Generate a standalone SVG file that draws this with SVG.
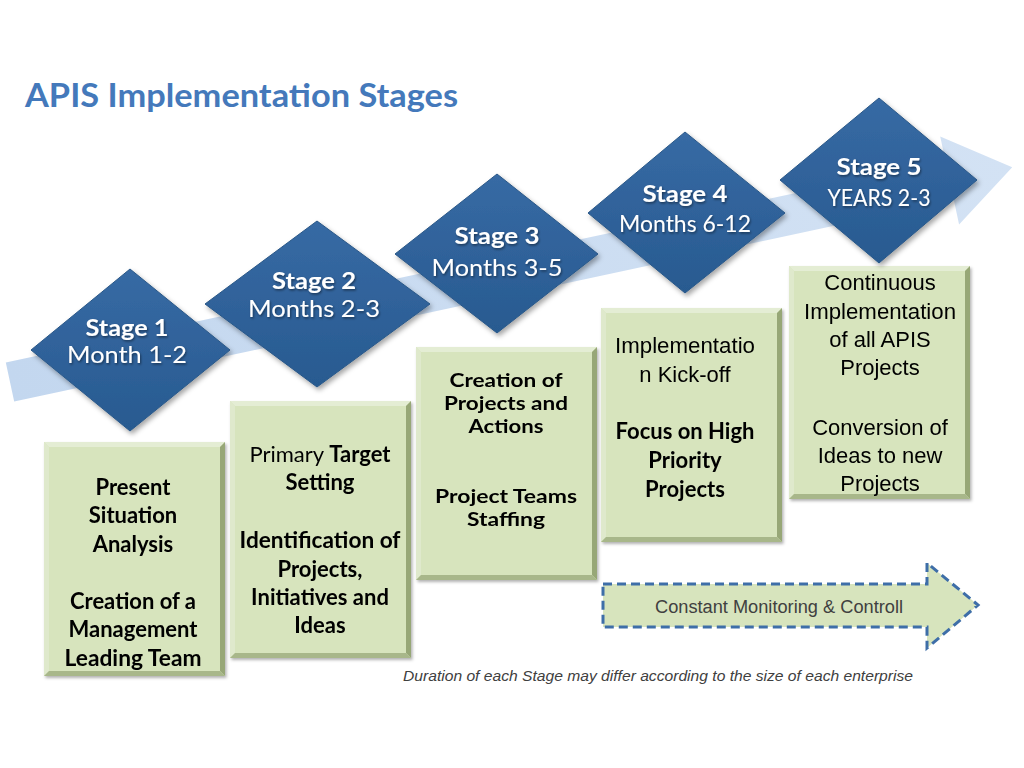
<svg xmlns="http://www.w3.org/2000/svg" width="1024" height="768" viewBox="0 0 1024 768">
<defs>
<linearGradient id="bandGrad" x1="0" y1="0" x2="1" y2="0">
<stop offset="0" stop-color="#c3d7ef"/>
<stop offset="1" stop-color="#d3e2f4"/>
</linearGradient>
<linearGradient id="diaGrad" x1="0" y1="0" x2="0" y2="1">
<stop offset="0" stop-color="#376aa4"/>
<stop offset="1" stop-color="#285a90"/>
</linearGradient>
<filter id="shadow" x="-10%" y="-10%" width="130%" height="130%">
<feDropShadow dx="2" dy="3" stdDeviation="2.5" flood-color="#000" flood-opacity="0.35"/>
</filter>
<filter id="bshadow" x="-10%" y="-10%" width="130%" height="130%">
<feDropShadow dx="1.5" dy="2" stdDeviation="1.5" flood-color="#000" flood-opacity="0.3"/>
</filter>
<filter id="tshadow" x="-10%" y="-20%" width="130%" height="150%">
<feDropShadow dx="1" dy="1.5" stdDeviation="1" flood-color="#000" flood-opacity="0.45"/>
</filter>
</defs>
<style>
.title{font-family:Lato,"Liberation Sans",sans-serif;font-weight:bold;font-size:33px;fill:#4479bb}
.dia{fill:url(#diaGrad);stroke:#2a5888;stroke-width:1;filter:url(#shadow)}
.dt{font-family:Lato,"Liberation Sans",sans-serif;font-size:23px;fill:#fff;text-anchor:middle;filter:url(#tshadow)}
.db{font-weight:bold}
.box{fill:#d7e4bd}
.bt{fill:#e4edd4}
.bl{fill:#dfe9cc}
.br{fill:#97a777}
.bb{fill:#a8b78a}
.tb{font-family:Lato,"Liberation Sans",sans-serif;font-weight:bold;font-size:22px;fill:#000;text-anchor:middle}
.tb3{font-family:Lato,"Liberation Sans",sans-serif;font-weight:bold;font-size:19.5px;fill:#000;text-anchor:middle}
.tr{font-family:"Liberation Sans",Arial,sans-serif;font-size:22px;fill:#000;text-anchor:middle}
.tl{font-family:Lato,"Liberation Sans",sans-serif;font-size:22px;fill:#000;text-anchor:middle}
.mon{fill:#d7e4bd;stroke:#3e6ea8;stroke-width:3;stroke-dasharray:9 5}
.mt{font-family:"Liberation Sans",Arial,sans-serif;font-size:18px;fill:#404040}
.foot{font-family:"Liberation Sans",Arial,sans-serif;font-style:italic;font-size:14.5px;fill:#404040}
</style>
<rect width="1024" height="768" fill="#fff"/>
<text class="title" x="25" y="107" textLength="433" lengthAdjust="spacingAndGlyphs">APIS Implementation Stages</text>

<g id="connectors">
<path transform="translate(10,382) rotate(-12.1)" d="M0,-20 L961,-20 L961,-45 L1025,0 L961,45 L961,20 L0,20 Z" fill="url(#bandGrad)"/>
</g>

<g id="box1" filter="url(#bshadow)">
<rect class="box" x="44" y="442" width="181" height="234"/>
<polygon class="bt" points="44,442 225,442 220,447 49,447"/>
<polygon class="bl" points="44,442 49,447 49,671 44,676"/>
<polygon class="br" points="225,442 225,676 220,671 220,447"/>
<polygon class="bb" points="44,676 225,676 220,671 49,671"/>
<text class="tb" x="133" y="495">Present</text>
<text class="tb" x="133" y="523">Situation</text>
<text class="tb" x="133" y="552">Analysis</text>
<text class="tb" x="133" y="609">Creation of a</text>
<text class="tb" x="133" y="637">Management</text>
<text class="tb" x="133" y="666" textLength="137" lengthAdjust="spacingAndGlyphs">Leading Team</text>
</g>

<g id="box2" filter="url(#bshadow)">
<rect class="box" x="230" y="401" width="181" height="257"/>
<polygon class="bt" points="230,401 411,401 406,406 235,406"/>
<polygon class="bl" points="230,401 235,406 235,653 230,658"/>
<polygon class="br" points="411,401 411,658 406,653 406,406"/>
<polygon class="bb" points="230,658 411,658 406,653 235,653"/>
<text class="tl" x="320" y="462">Primary <tspan font-weight="bold">Target</tspan></text>
<text class="tb" x="320" y="490">Setting</text>
<text class="tb" x="320" y="548" textLength="161" lengthAdjust="spacingAndGlyphs">Identification of</text>
<text class="tb" x="320" y="577">Projects,</text>
<text class="tb" x="320" y="605">Initiatives and</text>
<text class="tb" x="320" y="633">Ideas</text>
</g>

<g id="box3" filter="url(#bshadow)">
<rect class="box" x="416" y="347" width="181" height="233"/>
<polygon class="bt" points="416,347 597,347 592,352 421,352"/>
<polygon class="bl" points="416,347 421,352 421,575 416,580"/>
<polygon class="br" points="597,347 597,580 592,575 592,352"/>
<polygon class="bb" points="416,580 597,580 592,575 421,575"/>
<text class="tb3" x="506" y="387" textLength="113" lengthAdjust="spacingAndGlyphs">Creation of</text>
<text class="tb3" x="506" y="410" textLength="124" lengthAdjust="spacingAndGlyphs">Projects and</text>
<text class="tb3" x="506" y="433" textLength="75" lengthAdjust="spacingAndGlyphs">Actions</text>
<text class="tb3" x="506" y="503" textLength="142" lengthAdjust="spacingAndGlyphs">Project Teams</text>
<text class="tb3" x="506" y="526" textLength="78" lengthAdjust="spacingAndGlyphs">Staffing</text>
</g>

<g id="box4" filter="url(#bshadow)">
<rect class="box" x="601" y="308" width="181" height="234"/>
<polygon class="bt" points="601,308 782,308 777,313 606,313"/>
<polygon class="bl" points="601,308 606,313 606,537 601,542"/>
<polygon class="br" points="782,308 782,542 777,537 777,313"/>
<polygon class="bb" points="601,542 782,542 777,537 606,537"/>
<text class="tr" x="685" y="353" textLength="140" lengthAdjust="spacingAndGlyphs">Implementatio</text>
<text class="tr" x="685" y="382">n Kick-off</text>
<text class="tb" x="685" y="439">Focus on High</text>
<text class="tb" x="685" y="468">Priority</text>
<text class="tb" x="685" y="497">Projects</text>
</g>

<g id="box5" filter="url(#bshadow)">
<rect class="box" x="789" y="266" width="181" height="233"/>
<polygon class="bt" points="789,266 970,266 965,271 794,271"/>
<polygon class="bl" points="789,266 794,271 794,494 789,499"/>
<polygon class="br" points="970,266 970,499 965,494 965,271"/>
<polygon class="bb" points="789,499 970,499 965,494 794,494"/>
<text class="tr" x="880" y="290">Continuous</text>
<text class="tr" x="880" y="319" textLength="152" lengthAdjust="spacingAndGlyphs">Implementation</text>
<text class="tr" x="880" y="347">of all APIS</text>
<text class="tr" x="880" y="375">Projects</text>
<text class="tr" x="880" y="435">Conversion of</text>
<text class="tr" x="880" y="463">Ideas to new</text>
<text class="tr" x="880" y="491">Projects</text>
</g>

<g id="stage1">
<polygon class="dia" points="130,269 230,350 130,431 31,350"/>
<text class="dt db" x="127" y="336" textLength="83" lengthAdjust="spacingAndGlyphs">Stage 1</text>
<text class="dt" x="127" y="363" textLength="120" lengthAdjust="spacingAndGlyphs">Month 1-2</text>
</g>
<g id="stage2">
<polygon class="dia" points="317,221 430,304 317,387 205,304"/>
<text class="dt db" x="314" y="289" textLength="84" lengthAdjust="spacingAndGlyphs">Stage 2</text>
<text class="dt" x="314" y="317" textLength="132" lengthAdjust="spacingAndGlyphs">Months 2-3</text>
</g>
<g id="stage3">
<polygon class="dia" points="497,174 598,254 497,333 395,254"/>
<text class="dt db" x="497" y="244" textLength="85" lengthAdjust="spacingAndGlyphs">Stage 3</text>
<text class="dt" x="497" y="276" textLength="131" lengthAdjust="spacingAndGlyphs">Months 3-5</text>
</g>
<g id="stage4">
<polygon class="dia" points="685,132 785,213 685,293 588,213"/>
<text class="dt db" x="685" y="202" textLength="85" lengthAdjust="spacingAndGlyphs">Stage 4</text>
<text class="dt" x="685" y="232" textLength="132" lengthAdjust="spacingAndGlyphs">Months 6-12</text>
</g>
<g id="stage5">
<polygon class="dia" points="879,98 977,180 879,263 780,180"/>
<text class="dt db" x="879" y="175" textLength="85" lengthAdjust="spacingAndGlyphs">Stage 5</text>
<text class="dt" x="879" y="206" textLength="103" lengthAdjust="spacingAndGlyphs">YEARS 2-3</text>
</g>

<g id="monitoring">
<polygon class="mon" points="603,584 927,584 927,563 978,605 927,648 927,627 603,627"/>
<text class="mt" x="655" y="613" textLength="248" lengthAdjust="spacingAndGlyphs">Constant Monitoring &amp; Controll</text>
</g>

<text class="foot" x="403" y="681" textLength="510" lengthAdjust="spacingAndGlyphs">Duration of each Stage may differ according to the size of each enterprise</text>
</svg>
